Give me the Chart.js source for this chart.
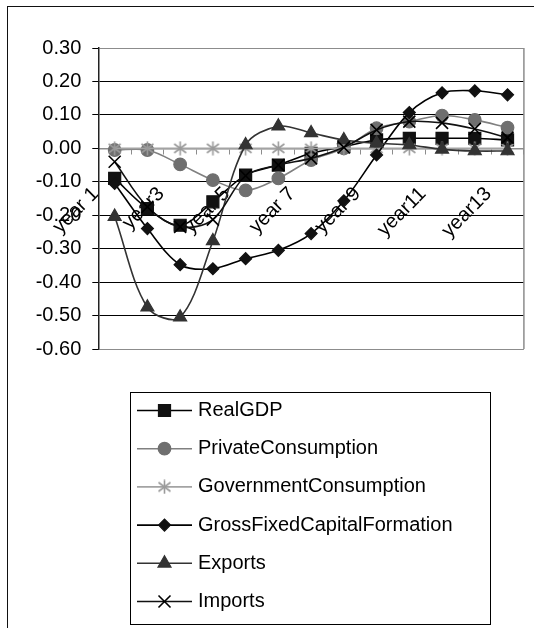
<!DOCTYPE html>
<html>
<head>
<meta charset="utf-8">
<script src="https://cdn.jsdelivr.net/npm/chart.js@4.4.1/dist/chart.umd.min.js"></script>
<style>
  html, body { margin: 0; padding: 0; background: #fff; }
  #wrap { position: relative; width: 534px; height: 628px; overflow: hidden; }
  #frame { position: absolute; left: 7px; top: 6px; width: 600px; height: 700px;
           border-left: 1.5px solid #111; border-top: 1.5px solid #111; }
  canvas { position: absolute; left: 0; top: 0; }
</style>
</head>
<body>
<div id="wrap">
  <div id="frame"></div>
  <canvas id="chart" width="534" height="628"></canvas>
</div>
<script>
// Categories
const years = ['year 1', 'year2', 'year3', 'year4', 'year 5', 'year6', 'year 7',
               'year8', 'year 9', 'year10', 'year11', 'year12', 'year13'];

// Series values (deviation from baseline)
const realGDP = [-0.09, -0.18, -0.23, -0.16, -0.08, -0.05, -0.015, 0.005, 0.025, 0.03, 0.03, 0.03, 0.025];
const privateConsumption = [-0.005, -0.005, -0.048, -0.095, -0.126, -0.09, -0.035, 0.0, 0.06, 0.08, 0.098, 0.085, 0.062];
const governmentConsumption = [0, 0, 0, 0, 0, 0, 0, 0, 0, 0, 0, 0, 0];
const grossFixedCapitalFormation = [-0.105, -0.24, -0.348, -0.36, -0.33, -0.305, -0.255, -0.157, -0.02, 0.107, 0.166, 0.172, 0.16];
const exportsSeries = [-0.204, -0.475, -0.505, -0.277, 0.01, 0.066, 0.046, 0.025, 0.015, 0.01, -0.003, -0.008, -0.008];
const importsSeries = [-0.04, -0.175, -0.235, -0.213, -0.082, -0.05, -0.03, 0.003, 0.055, 0.08, 0.076, 0.058, 0.032];

// Value axis ticks
const yMin = -0.6;
const yMax = 0.3;
const yStep = 0.1;

const FONT = '"Liberation Sans", Arial, Helvetica, sans-serif';

// Six-spoke asterisk marker
function asteriskMarker(color) {
  const c = document.createElement('canvas');
  c.width = 15; c.height = 15;
  const g = c.getContext('2d');
  g.strokeStyle = color; g.lineWidth = 1.6; g.lineCap = 'butt';
  g.beginPath();
  g.moveTo(7.5, 0.5); g.lineTo(7.5, 14.5);
  g.moveTo(1.5, 3); g.lineTo(13.5, 12);
  g.moveTo(13.5, 3); g.lineTo(1.5, 12);
  g.stroke();
  return c;
}

function series(label, data, line, fill, style, radius, order) {
  return {
    label, data,
    borderColor: line,
    borderWidth: 1.6,
    pointStyle: style,
    pointRadius: radius,
    pointHoverRadius: radius,
    pointBackgroundColor: fill,
    pointBorderColor: fill,
    pointBorderWidth: 1.2,
    tension: 0.33,
    fill: false,
    order
  };
}

const datasets = [
  series('RealGDP', realGDP, '#000', '#111', 'rect', 8.5, 5),
  series('PrivateConsumption', privateConsumption, '#808080', '#6f6f6f', 'circle', 6.3, 4),
  series('GovernmentConsumption', governmentConsumption, '#a3a3a3', '#9a9a9a', asteriskMarker('#9a9a9a'), 7, 3),
  series('GrossFixedCapitalFormation', grossFixedCapitalFormation, '#000', '#111', 'rectRot', 6, 2),
  series('Exports', exportsSeries, '#333', '#333', 'triangle', 7.5, 1),
  series('Imports', importsSeries, '#111', '#000', 'crossRot', 8.5, 0)
];
datasets[5].pointBorderWidth = 1.6;

// Legend drawn as a framed list below the plot
const legendBox = {
  id: 'legendBox',
  afterDraw(chart) {
    const ctx = chart.ctx;
    ctx.save();
    ctx.strokeStyle = '#000';
    ctx.lineWidth = 1;
    ctx.strokeRect(130.5, 392.5, 360, 232);
    chart.data.datasets.forEach((ds, i) => {
      const y = 410.5 + i * 38.2;
      ctx.strokeStyle = ds.borderColor;
      ctx.lineWidth = ds.borderWidth;
      ctx.beginPath();
      ctx.moveTo(137, y);
      ctx.lineTo(192, y);
      ctx.stroke();
      ctx.fillStyle = ds.pointBackgroundColor;
      ctx.strokeStyle = ds.pointBorderColor;
      ctx.lineWidth = ds.pointBorderWidth;
      Chart.helpers.drawPoint(ctx, {
        pointStyle: ds.pointStyle, radius: ds.pointRadius,
        rotation: 0, borderWidth: ds.pointBorderWidth
      }, 164.5, y);
      ctx.fillStyle = '#000';
      ctx.font = '20px ' + FONT;
      ctx.textAlign = 'left';
      ctx.textBaseline = 'middle';
      ctx.fillText(ds.label, 198, y);
    });
    ctx.restore();
  }
};

// Right-hand edge of the plot frame
const plotFrame = {
  id: 'plotFrame',
  beforeDatasetsDraw(chart) {
    const { ctx, chartArea: a } = chart;
    ctx.save();
    ctx.strokeStyle = '#8c8c8c';
    ctx.lineWidth = 1.5;
    ctx.beginPath();
    ctx.moveTo(a.right, a.top);
    ctx.lineTo(a.right, a.bottom);
    ctx.stroke();
    ctx.restore();
  }
};

Chart.defaults.color = '#000';
Chart.defaults.font.family = FONT;

new Chart(document.getElementById('chart'), {
  type: 'line',
  data: { labels: years, datasets },
  plugins: [plotFrame, legendBox],
  options: {
    responsive: false,
    animation: false,
    devicePixelRatio: 1,
    layout: { padding: { left: 8, top: 48, right: 10, bottom: 279 } },
    plugins: { legend: { display: false }, tooltip: { enabled: false } },
    scales: {
      x: {
        type: 'category',
        position: { y: 0 },
        offset: true,
        afterFit: s => { s.paddingLeft = 0; s.paddingRight = 0; },
        grid: { drawOnChartArea: false, offset: true, tickLength: 5, color: '#8c8c8c', lineWidth: 1 },
        border: { color: '#8c8c8c', width: 1.5 },
        ticks: {
          autoSkip: false,
          minRotation: 45,
          maxRotation: 45,
          padding: 29,
          labelOffset: -19,
          font: { size: 20 },
          callback: function (val, i) { return i % 2 === 0 ? this.getLabelForValue(val) : ''; }
        }
      },
      y: {
        min: yMin,
        max: yMax,
        afterFit: s => { s.width = 90.3; },
        grid: {
          color: c => (Math.abs(c.tick.value - yMax) < 1e-6 || Math.abs(c.tick.value - yMin) < 1e-6) ? '#8c8c8c' : '#000',
          tickColor: '#000',
          tickLength: 6,
          lineWidth: 1
        },
        border: { color: '#222', width: 1.5 },
        ticks: {
          stepSize: yStep,
          padding: 11,
          font: { size: 20 },
          callback: v => v.toFixed(2)
        }
      }
    }
  }
});
</script>
</body>
</html>
